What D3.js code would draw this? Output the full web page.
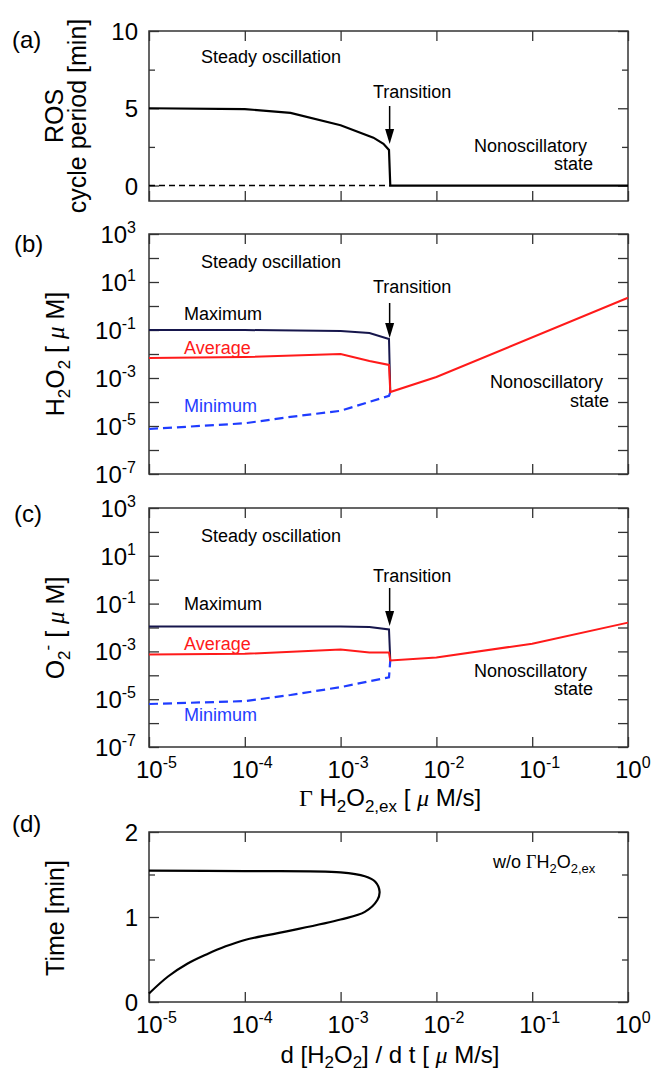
<!DOCTYPE html>
<html>
<head>
<meta charset="utf-8">
<script src="https://cdn.jsdelivr.net/npm/d3@7"></script>
<style>
  body { margin: 0; background: #fff; }
  svg text { font-family: "Liberation Sans", Arial, sans-serif; fill: #000; }
  .serif { font-family: "Liberation Serif", "Times New Roman", serif; }
</style>
</head>
<body>
<svg width="654" height="1076"></svg>
<script>
// x axis (shared by every panel)
var decades = [1e-5, 1e-4, 1e-3, 1e-2, 1e-1, 1];
var decadeExp = ["-5", "-4", "-3", "-2", "-1", "0"];
var transitionX = 3.25e-3;

// (a) ROS cycle period [min]
var periodX = [1e-5, 1e-4, 3e-4, 1e-3, 2.2e-3, 2.8e-3, 3.2e-3, 3.3e-3, 1];
var periodY = [5.0, 4.95, 4.7, 3.9, 3.1, 2.7, 2.3, 0, 0];
var periodZeroX = [1e-5, 3.3e-3];
var periodMajor = [0, 5, 10];
var periodMinor = [2.5, 7.5];

// (b) H2O2 [uM]
var h2o2MaxX = [1e-5, 1e-4, 1e-3, 2e-3, 3.2e-3, 3.3e-3];
var h2o2MaxY = [0.1, 0.1, 0.09, 0.075, 0.042, 2.6e-4];
var h2o2AvgX = [1e-5, 1e-4, 1e-3, 2e-3, 3.2e-3, 3.3e-3, 1e-2, 1];
var h2o2AvgY = [6.8e-3, 7.5e-3, 0.01, 5.1e-3, 3.5e-3, 2.6e-4, 1.1e-3, 2.2];
var h2o2MinX = [1e-5, 1e-4, 3e-4, 1e-3, 3.2e-3, 3.3e-3];
var h2o2MinY = [7.5e-6, 1.3e-5, 2.4e-5, 4.3e-5, 1.8e-4, 2.6e-4];

// (c) O2- [uM]
var o2MaxX = [1e-5, 1e-3, 2e-3, 3.2e-3, 3.3e-3];
var o2MaxY = [0.011, 0.011, 0.0105, 0.0083, 4.2e-4];
var o2AvgX = [1e-5, 1e-4, 1e-3, 2e-3, 3.2e-3, 3.3e-3, 1e-2, 1e-1, 1];
var o2AvgY = [7.5e-4, 7.9e-4, 1.2e-3, 9.1e-4, 9.1e-4, 4.2e-4, 5.6e-4, 2.1e-3, 0.016];
var o2MinX = [1e-5, 1e-4, 3e-4, 1e-3, 3.2e-3, 3.3e-3];
var o2MinY = [6.3e-6, 8.3e-6, 1.5e-5, 3.2e-5, 8.3e-5, 4.2e-4];

var logMajor = [1e3, 1e2, 1e1, 1, 1e-1, 1e-2, 1e-3, 1e-4, 1e-5, 1e-6, 1e-7];
var logLabels = [1e3, 1e1, 1e-1, 1e-3, 1e-5, 1e-7];
var logLabelExp = ["3", "1", "-1", "-3", "-5", "-7"];

// (d) time vs d[H2O2]/dt without external H2O2
var rateX = [1e-5, 1.58e-5, 2.51e-5, 3.98e-5, 6.31e-5, 1e-4, 1.78e-4, 3.16e-4, 1e-3, 1.79e-3, 2.42e-3, 2.55e-3, 2.3e-3, 1.79e-3, 1e-3, 1e-4, 1e-5];
var rateT = [0.1, 0.3, 0.45, 0.56, 0.655, 0.73, 0.79, 0.845, 0.97, 1.06, 1.2, 1.3, 1.415, 1.48, 1.525, 1.54, 1.545];
var timeMajor = [0, 1, 2];
var timeMinor = [0.5, 1.5];

var NAVY = "#16164c", RED = "#ff1a1a", BLUE = "#1f3cff";

var svg = d3.select("svg");
var left = 149, right = 628;
var x = d3.scaleLog().domain([1e-5, 1]).range([left, right]);

var yA = d3.scaleLinear().domain([-1, 10]).range([201, 31]);
var yB = d3.scaleLog().domain([1e-7, 1e3]).range([474, 234]);
var yC = d3.scaleLog().domain([1e-7, 1e3]).range([747, 508]);
var yD = d3.scaleLinear().domain([0, 2]).range([1002, 832]);

var drawFrame = function(y, yMajor, yMinor) {
  var top = y.range()[1], bottom = y.range()[0];
  var g = svg.append("g");
  g.append("g").attr("transform", "translate(0," + bottom + ")")
    .call(d3.axisBottom(x).tickValues(decades).tickSize(-10).tickFormat(""));
  g.append("g").attr("transform", "translate(0," + top + ")")
    .call(d3.axisTop(x).tickValues(decades).tickSize(-10).tickFormat(""));
  g.append("g").attr("transform", "translate(" + left + ",0)")
    .call(d3.axisLeft(y).tickValues(yMajor).tickSize(-10).tickFormat(""));
  g.append("g").attr("transform", "translate(" + right + ",0)")
    .call(d3.axisRight(y).tickValues(yMajor).tickSize(-10).tickFormat(""));
  if (yMinor) {
    g.append("g").attr("transform", "translate(" + left + ",0)")
      .call(d3.axisLeft(y).tickValues(yMinor).tickSize(-6).tickFormat(""));
    g.append("g").attr("transform", "translate(" + right + ",0)")
      .call(d3.axisRight(y).tickValues(yMinor).tickSize(-6).tickFormat(""));
  }
  g.selectAll(".domain").remove();
  g.selectAll(".tick line").attr("stroke", "#333").attr("stroke-width", 1.3);
  g.append("rect")
    .attr("x", left).attr("y", top)
    .attr("width", right - left).attr("height", bottom - top)
    .attr("fill", "none").attr("stroke", "#333").attr("stroke-width", 1.5);
};

var drawLine = function(y, xs, ys, color, dash, width) {
  var line = d3.line().x(function(d) { return x(d[0]); }).y(function(d) { return y(d[1]); });
  svg.append("path")
    .datum(d3.zip(xs, ys))
    .attr("d", line)
    .attr("fill", "none")
    .attr("stroke", color)
    .attr("stroke-width", width || 2)
    .attr("stroke-dasharray", dash || null);
};

var label = function(px, py, str, opts) {
  opts = opts || {};
  return svg.append("text")
    .attr("x", px).attr("y", py)
    .attr("font-size", opts.size || 18)
    .attr("text-anchor", opts.anchor || "start")
    .style("fill", opts.color || "#000")
    .text(str);
};

var pow10 = function(t, exp) {
  t.append("tspan").text("10");
  t.append("tspan").attr("dy", -10).attr("font-size", 16).text(exp);
};

var arrow = function(top, tip) {
  var ax = x(transitionX);
  svg.append("line").attr("x1", ax).attr("x2", ax).attr("y1", top).attr("y2", tip - 12)
    .attr("stroke", "#000").attr("stroke-width", 1.5);
  svg.append("path")
    .attr("d", "M" + (ax - 4.5) + "," + (tip - 15) + "L" + (ax + 4.5) + "," + (tip - 15) + "L" + ax + "," + tip + "Z")
    .attr("fill", "#000");
};

var yLogLabels = function(y) {
  logLabels.forEach(function(v, i) {
    var t = svg.append("text").attr("x", 136).attr("y", y(v) + 9)
      .attr("font-size", 24).attr("text-anchor", "end");
    pow10(t, logLabelExp[i]);
  });
};

var xLogLabels = function(y) {
  var base = y.range()[0] + 31;
  decades.forEach(function(v, i) {
    var t = svg.append("text").attr("x", x(v) - 13).attr("y", base).attr("font-size", 24);
    pow10(t, decadeExp[i]);
  });
};

var yTitle = function(cx, cy) {
  return svg.append("text")
    .attr("transform", "translate(" + cx + "," + cy + ") rotate(-90)")
    .attr("text-anchor", "middle")
    .attr("font-size", 25);
};

// ---------- (a) ----------
drawFrame(yA, periodMajor, periodMinor);
drawLine(yA, periodZeroX, [0, 0], "#000", "6,4", 1.5);
drawLine(yA, periodX, periodY, "#000", null, 2.2);
periodMajor.forEach(function(v) {
  label(138, yA(v) + 9, String(v), {size: 24, anchor: "end"});
});
label(12, 48, "(a)", {size: 24});
yTitle(63, 116).text("ROS");
yTitle(86, 116).text("cycle period [min]");
label(201, 63, "Steady oscillation");
label(373, 98, "Transition");
arrow(106, 144);
label(474, 152, "Nonoscillatory");
label(593, 170, "state", {anchor: "end"});

// ---------- (b) ----------
drawFrame(yB, logMajor);
drawLine(yB, h2o2MinX, h2o2MinY, BLUE, "9,5", 2.2);
drawLine(yB, h2o2MaxX, h2o2MaxY, NAVY, null, 2);
drawLine(yB, h2o2AvgX, h2o2AvgY, RED, null, 2);
yLogLabels(yB);
label(14, 252, "(b)", {size: 24});
var tb = yTitle(64, 354);
tb.append("tspan").text("H");
tb.append("tspan").attr("dy", 6).attr("font-size", 17).text("2");
tb.append("tspan").attr("dy", -6).text("O");
tb.append("tspan").attr("dy", 6).attr("font-size", 17).text("2");
tb.append("tspan").attr("dy", -6).text(" [ ");
tb.append("tspan").attr("class", "serif").attr("font-style", "italic").text("\u03bc");
tb.append("tspan").text(" M]");
label(201, 268, "Steady oscillation");
label(184, 320, "Maximum");
label(184, 354, "Average", {color: RED});
label(184, 412, "Minimum", {color: BLUE});
label(373, 293, "Transition");
arrow(303, 338);
label(490, 388, "Nonoscillatory");
label(609, 407, "state", {anchor: "end"});

// ---------- (c) ----------
drawFrame(yC, logMajor);
drawLine(yC, o2MinX, o2MinY, BLUE, "9,5", 2.2);
drawLine(yC, o2MaxX, o2MaxY, NAVY, null, 2);
drawLine(yC, o2AvgX, o2AvgY, RED, null, 2);
yLogLabels(yC);
xLogLabels(yC);
label(14, 522, "(c)", {size: 24});
var tc = yTitle(64, 628);
tc.append("tspan").text("O");
tc.append("tspan").attr("dy", 6).attr("font-size", 17).text("2");
tc.append("tspan").attr("dy", -17).attr("font-size", 17).text("-");
tc.append("tspan").attr("dy", 11).text(" [ ");
tc.append("tspan").attr("class", "serif").attr("font-style", "italic").text("\u03bc");
tc.append("tspan").text(" M]");
label(201, 542, "Steady oscillation");
label(184, 610, "Maximum");
label(184, 650, "Average", {color: RED});
label(184, 721, "Minimum", {color: BLUE});
label(373, 582, "Transition");
arrow(588, 626);
label(474, 677, "Nonoscillatory");
label(593, 695, "state", {anchor: "end"});

var tx = svg.append("text").attr("x", 390).attr("y", 806).attr("text-anchor", "middle").attr("font-size", 24);
tx.append("tspan").attr("class", "serif").text("\u0393");
tx.append("tspan").text(" H");
tx.append("tspan").attr("dy", 6).attr("font-size", 17).text("2");
tx.append("tspan").attr("dy", -6).text("O");
tx.append("tspan").attr("dy", 6).attr("font-size", 17).text("2,ex");
tx.append("tspan").attr("dy", -6).text(" [ ");
tx.append("tspan").attr("class", "serif").attr("font-style", "italic").text("\u03bc");
tx.append("tspan").text(" M/s]");

// ---------- (d) ----------
drawFrame(yD, timeMajor, timeMinor);
var curve = d3.line()
  .x(function(d) { return x(d[0]); })
  .y(function(d) { return yD(d[1]); })
  .curve(d3.curveCatmullRom);
svg.append("path")
  .datum(d3.zip(rateX, rateT))
  .attr("d", curve)
  .attr("fill", "none").attr("stroke", "#000").attr("stroke-width", 2.2);
timeMajor.forEach(function(v) {
  label(138, yD(v) + 9, String(v), {size: 24, anchor: "end"});
});
xLogLabels(yD);
label(12, 832, "(d)", {size: 24});
yTitle(64, 918).text("Time [min]");

var tw = svg.append("text").attr("x", 493).attr("y", 868).attr("font-size", 18);
tw.append("tspan").text("w/o  ");
tw.append("tspan").attr("class", "serif").text("\u0393");
tw.append("tspan").text("H");
tw.append("tspan").attr("dy", 5).attr("font-size", 13).text("2");
tw.append("tspan").attr("dy", -5).text("O");
tw.append("tspan").attr("dy", 5).attr("font-size", 13).text("2,ex");

var td = svg.append("text").attr("x", 390).attr("y", 1063).attr("text-anchor", "middle").attr("font-size", 24);
td.append("tspan").text("d [H");
td.append("tspan").attr("dy", 5).attr("font-size", 17).text("2");
td.append("tspan").attr("dy", -5).text("O");
td.append("tspan").attr("dy", 5).attr("font-size", 17).text("2");
td.append("tspan").attr("dy", -5).text("] / d t [ ");
td.append("tspan").attr("class", "serif").attr("font-style", "italic").text("\u03bc");
td.append("tspan").text(" M/s]");
</script>
</body>
</html>
